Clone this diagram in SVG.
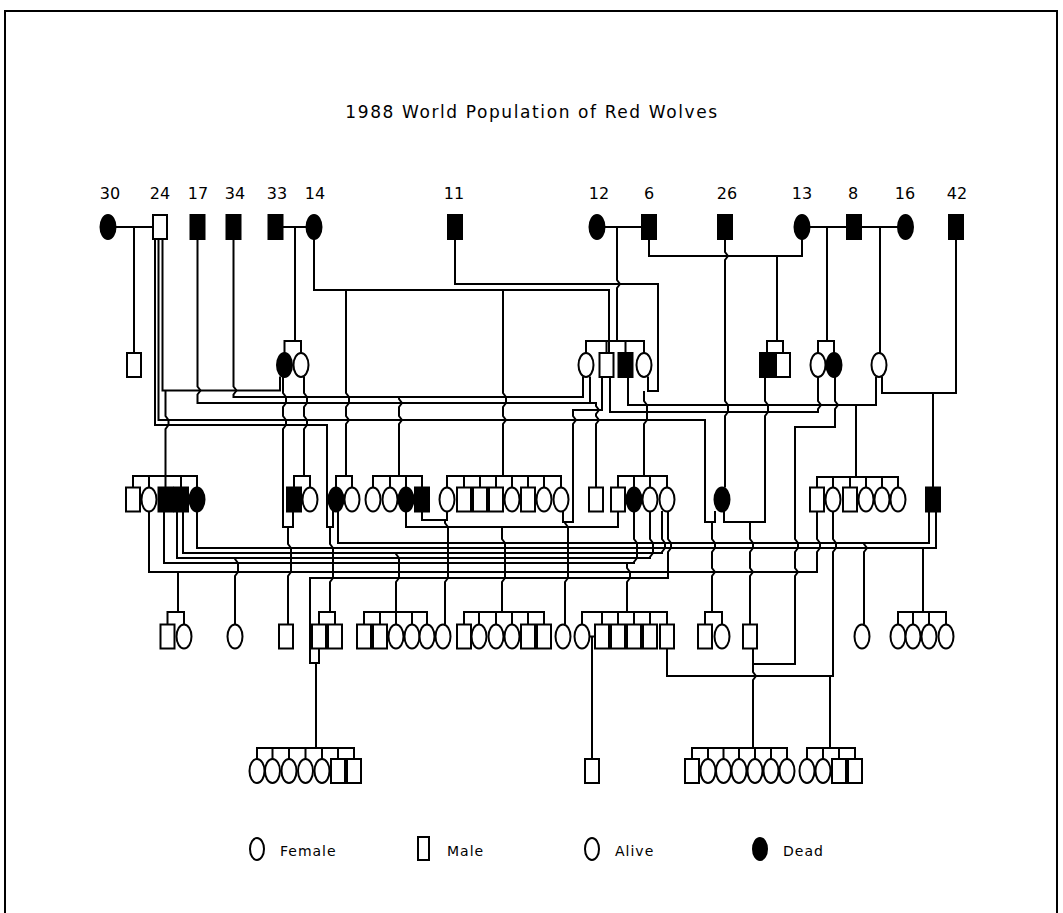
<svg xmlns="http://www.w3.org/2000/svg" xmlns:xlink="http://www.w3.org/1999/xlink" width="1063" height="913" viewBox="0 0 1063 913">
<style>
.ln{fill:none;stroke:#000;stroke-width:2;stroke-linejoin:miter}
.o{fill:#fff;stroke:#000;stroke-width:2}
.d{fill:#000;stroke:#000;stroke-width:2}
.t{font-family:"DejaVu Sans",sans-serif;font-size:16px;fill:#000}
.lg{font-family:"DejaVu Sans",sans-serif;font-size:14px;fill:#000;letter-spacing:1px}
</style>
<defs>
<rect id="sq" x="-7" y="-12" width="14" height="24"/>
<ellipse id="ov" cx="0" cy="0" rx="7.5" ry="12"/>
</defs>
<rect x="5" y="11" width="1052" height="920" fill="none" stroke="#000" stroke-width="2"/>
<text class="t" x="532" y="118" text-anchor="middle" style="font-size:17px;letter-spacing:1.6px">1988 World Population of Red Wolves</text>
<g id="labels" class="t" text-anchor="middle">
<text x="110" y="199">30</text><text x="160" y="199">24</text><text x="198" y="199">17</text><text x="235" y="199">34</text><text x="277" y="199">33</text><text x="315" y="199">14</text><text x="454" y="199">11</text><text x="599" y="199">12</text><text x="649" y="199">6</text><text x="727" y="199">26</text><text x="802" y="199">13</text><text x="853" y="199">8</text><text x="905" y="199">16</text><text x="957" y="199">42</text>
</g>
<g id="connectors" class="ln">
<path d="M115.5 227H153M134 227V353"/>
<path d="M282.5 227H306.5M295 227V341M284.5 353V341H301V353"/>
<path d="M314 239V290H609V353"/>
<path d="M346 290V393l3 4V403l-3 4V416l3 4l-3 4V476"/>
<path d="M503 290V393l3 4V403l-3 4V416l3 4l-3 4V476"/>
<path d="M455 239V284H658V391H648V376.5"/>
<path d="M644 391V401l3 4V420l-3 4V476"/>
<path d="M604.5 227H642M617 227V280l3 4l-3 4V341M586 353V341H644V353M606.5 341V353M625.5 341V353"/>
<path d="M649 239V256H802V239M777 256V341M767 353V341H783V353"/>
<path d="M725 239V252l3 4l-3 4V401l3 4V412l-3 4V487.5"/>
<path d="M809.5 227H847M827 227V341M818 353V341H834V353"/>
<path d="M861 227H898M880 227V353"/>
<path d="M956 239V393H882V376.5M933 393V487.5"/>
<path d="M162.5 239V390.5H280V376.5"/>
<path d="M165.5 390.5V416l3 4V425l-3 4V476"/>
<path d="M158.5 239V420H705V522H715V511"/>
<path d="M712 522V539l3 4V548l-3 4V568l3 4l-3 4V612"/>
<path d="M155 239V425H327V527H333V511"/>
<path d="M330 527V544l3 4V578l-3 4V612"/>
<path d="M197.5 239V386.5l3 4l-3 4V403H596V406l3 4l-3 4V416l3 4l-3 4V487.5M590 403V376.5"/>
<path d="M233.5 239V386.5l3 4l-3 4V397H583V376.5"/>
<path d="M399 397V399l3 4l-3 4V416l3 4l-3 4V476"/>
<path d="M304 376.5V393l3 4V403l-3 4V416l3 4V425l-3 4V476"/>
<path d="M602 377V410H573V416l3 4l-3 4V522H563V511"/>
<path d="M565 522V523l3 4V578l-3 4V624.5"/>
<path d="M628 377V405H876V377M856 405V476"/>
<path d="M818 377V401l3 4l-3 4V412H610V377"/>
<path d="M765 377V401l3 4V412l-3 4V522H724V511"/>
<path d="M750 522V539l3 4V548l-3 4V568l3 4l-3 4V624.5"/>
<path d="M835 377V401l3 4l-3 4V427H795V539l3 4V548l-3 4V568l3 4l-3 4V664H753V648.5"/>
<path d="M753 664V672l3 4l-3 4V748"/>
<path d="M283 377V393l3 4V403l-3 4V416l3 4V425l-3 4V527H293V511"/>
<path d="M288 527V544l3 4V572l-3 4V624.5"/>
<path d="M422 511V520H447V511M445 520V523l3 4V578l-3 4V624.5"/>
<path d="M406 511V527H618V511M502 527V539l3 4V578l-3 4V612"/>
<path d="M338 511V543H929V511M864 543V544l3 4l-3 4V624.5"/>
<path d="M197 511V548H936V511M923 548V612"/>
<path d="M662 511V539l3 4V548l-3 4V553H183V511M396 553V554l3 4V578l-3 4V612"/>
<path d="M650 511V539l3 4V553l-3 4V558H177V511M235 558V559l3 4V572l-3 4V624.5"/>
<path d="M634 511V539l3 4V558l-3 4V563H164V511M627 563V568l3 4V578l-3 4V612"/>
<path d="M817 511V539l3 4V548l-3 4V572H149V511M178 572V612"/>
<path d="M668 511V539l3 4V548l-3 4V578H310V663H319V648.5M316 663V748"/>
<path d="M589.5 636.5H595M592 636.5V759"/>
<path d="M833 511V539l3 4V548l-3 4V676H667V648.5M830 676V748"/>
<path d="M133 487.5V476H197V487.5M149 476V487.5M165.5 476V487.5M181 476V487.5"/>
<path d="M294 487.5V476H310V487.5"/>
<path d="M336 487.5V476H352V487.5"/>
<path d="M373 487.5V476H422V487.5M390 476V487.5M406 476V487.5"/>
<path d="M447 487.5V476H561V487.5M464 476V487.5M480 476V487.5M496 476V487.5M512 476V487.5M528 476V487.5M544 476V487.5"/>
<path d="M618 487.5V476H667V487.5M634 476V487.5M650 476V487.5"/>
<path d="M817 487.5V477H898V487.5M833 477V487.5M850 477V487.5M866 477V487.5M882 477V487.5"/>
<path d="M167.5 624.5V612H184V624.5"/>
<path d="M319 624.5V612H335V624.5"/>
<path d="M364 624.5V612H427V624.5M380 612V624.5M396 612V624.5M412 612V624.5"/>
<path d="M464 624.5V612H544V624.5M479 612V624.5M496 612V624.5M512 612V624.5M528 612V624.5"/>
<path d="M582 624.5V612H667V624.5M602 612V624.5M618 612V624.5M634 612V624.5M650 612V624.5"/>
<path d="M705 624.5V612H722V624.5"/>
<path d="M898 624.5V612H946V624.5M913 612V624.5M929 612V624.5"/>
<path d="M257 759V748H354V759M272.5 748V759M289 748V759M305.5 748V759M322 748V759M338 748V759"/>
<path d="M692 759V748H787V759M708 748V759M723.5 748V759M739 748V759M755 748V759M771 748V759"/>
<path d="M807 759V748H855V759M823 748V759M839 748V759"/>
</g>
<g id="founders">
<g id="w30"><use xlink:href="#ov" class="d" x="108" y="227"/></g>
<g id="w24"><use xlink:href="#sq" class="o" x="160" y="227"/></g>
<g id="w17"><use xlink:href="#sq" class="d" x="197.5" y="227"/></g>
<g id="w34"><use xlink:href="#sq" class="d" x="233.5" y="227"/></g>
<g id="w33"><use xlink:href="#sq" class="d" x="275.5" y="227"/></g>
<g id="w14"><use xlink:href="#ov" class="d" x="314" y="227"/></g>
<g id="w11"><use xlink:href="#sq" class="d" x="455" y="227"/></g>
<g id="w12"><use xlink:href="#ov" class="d" x="597" y="227"/></g>
<g id="w6"><use xlink:href="#sq" class="d" x="649" y="227"/></g>
<g id="w26"><use xlink:href="#sq" class="d" x="725" y="227"/></g>
<g id="w13"><use xlink:href="#ov" class="d" x="802" y="227"/></g>
<g id="w8"><use xlink:href="#sq" class="d" x="854" y="227"/></g>
<g id="w16"><use xlink:href="#ov" class="d" x="905.5" y="227"/></g>
<g id="w42"><use xlink:href="#sq" class="d" x="956" y="227"/></g>
</g>
<g id="gen2">
<g id="g2a"><use xlink:href="#sq" class="o" x="134" y="365"/></g>
<g id="g2b"><use xlink:href="#ov" class="d" x="284.5" y="365"/></g>
<g id="g2c"><use xlink:href="#ov" class="o" x="301" y="365"/></g>
<g id="g2d"><use xlink:href="#ov" class="o" x="586" y="365"/></g>
<g id="g2e"><use xlink:href="#sq" class="o" x="606.5" y="365"/></g>
<g id="g2f"><use xlink:href="#sq" class="d" x="625.5" y="365"/></g>
<g id="g2g"><use xlink:href="#ov" class="o" x="644" y="365"/></g>
<g id="g2h"><use xlink:href="#sq" class="d" x="767" y="365"/></g>
<g id="g2i"><use xlink:href="#sq" class="o" x="783" y="365"/></g>
<g id="g2j"><use xlink:href="#ov" class="o" x="818" y="365"/></g>
<g id="g2k"><use xlink:href="#ov" class="d" x="834" y="365"/></g>
<g id="g2l"><use xlink:href="#ov" class="o" x="879" y="365"/></g>
</g>
<g id="gen3">
<g id="g3a1"><use xlink:href="#sq" class="o" x="133" y="499.5"/></g>
<g id="g3a2"><use xlink:href="#ov" class="o" x="149" y="499.5"/></g>
<g id="g3a3"><use xlink:href="#sq" class="d" x="165.5" y="499.5"/></g>
<g id="g3a4"><use xlink:href="#sq" class="d" x="181" y="499.5"/></g>
<g id="g3a5"><use xlink:href="#ov" class="d" x="197" y="499.5"/></g>
<g id="g3b1"><use xlink:href="#sq" class="d" x="294" y="499.5"/></g>
<g id="g3b2"><use xlink:href="#ov" class="o" x="310" y="499.5"/></g>
<g id="g3c1"><use xlink:href="#ov" class="d" x="336" y="499.5"/></g>
<g id="g3c2"><use xlink:href="#ov" class="o" x="352" y="499.5"/></g>
<g id="g3d1"><use xlink:href="#ov" class="o" x="373" y="499.5"/></g>
<g id="g3d2"><use xlink:href="#ov" class="o" x="390" y="499.5"/></g>
<g id="g3d3"><use xlink:href="#ov" class="d" x="406" y="499.5"/></g>
<g id="g3d4"><use xlink:href="#sq" class="d" x="422" y="499.5"/></g>
<g id="g3e1"><use xlink:href="#ov" class="o" x="447" y="499.5"/></g>
<g id="g3e2"><use xlink:href="#sq" class="o" x="464" y="499.5"/></g>
<g id="g3e3"><use xlink:href="#sq" class="o" x="480" y="499.5"/></g>
<g id="g3e4"><use xlink:href="#sq" class="o" x="496" y="499.5"/></g>
<g id="g3e5"><use xlink:href="#ov" class="o" x="512" y="499.5"/></g>
<g id="g3e6"><use xlink:href="#sq" class="o" x="528" y="499.5"/></g>
<g id="g3e7"><use xlink:href="#ov" class="o" x="544" y="499.5"/></g>
<g id="g3e8"><use xlink:href="#ov" class="o" x="561" y="499.5"/></g>
<g id="g3s1"><use xlink:href="#sq" class="o" x="596" y="499.5"/></g>
<g id="g3f1"><use xlink:href="#sq" class="o" x="618" y="499.5"/></g>
<g id="g3f2"><use xlink:href="#ov" class="d" x="634" y="499.5"/></g>
<g id="g3f3"><use xlink:href="#ov" class="o" x="650" y="499.5"/></g>
<g id="g3f4"><use xlink:href="#ov" class="o" x="667" y="499.5"/></g>
<g id="g3s2"><use xlink:href="#ov" class="d" x="722" y="499.5"/></g>
<g id="g3g1"><use xlink:href="#sq" class="o" x="817" y="499.5"/></g>
<g id="g3g2"><use xlink:href="#ov" class="o" x="833" y="499.5"/></g>
<g id="g3g3"><use xlink:href="#sq" class="o" x="850" y="499.5"/></g>
<g id="g3g4"><use xlink:href="#ov" class="o" x="866" y="499.5"/></g>
<g id="g3g5"><use xlink:href="#ov" class="o" x="882" y="499.5"/></g>
<g id="g3g6"><use xlink:href="#ov" class="o" x="898" y="499.5"/></g>
<g id="g3s3"><use xlink:href="#sq" class="d" x="933" y="499.5"/></g>
</g>
<g id="gen4">
<g id="g4a1"><use xlink:href="#sq" class="o" x="167.5" y="636.5"/></g>
<g id="g4a2"><use xlink:href="#ov" class="o" x="184" y="636.5"/></g>
<g id="g4s1"><use xlink:href="#ov" class="o" x="235" y="636.5"/></g>
<g id="g4s2"><use xlink:href="#sq" class="o" x="286" y="636.5"/></g>
<g id="g4b1"><use xlink:href="#sq" class="o" x="319" y="636.5"/></g>
<g id="g4b2"><use xlink:href="#sq" class="o" x="335" y="636.5"/></g>
<g id="g4c1"><use xlink:href="#sq" class="o" x="364" y="636.5"/></g>
<g id="g4c2"><use xlink:href="#sq" class="o" x="380" y="636.5"/></g>
<g id="g4c3"><use xlink:href="#ov" class="o" x="396" y="636.5"/></g>
<g id="g4c4"><use xlink:href="#ov" class="o" x="412" y="636.5"/></g>
<g id="g4c5"><use xlink:href="#ov" class="o" x="427" y="636.5"/></g>
<g id="g4s3"><use xlink:href="#ov" class="o" x="443" y="636.5"/></g>
<g id="g4d1"><use xlink:href="#sq" class="o" x="464" y="636.5"/></g>
<g id="g4d2"><use xlink:href="#ov" class="o" x="479" y="636.5"/></g>
<g id="g4d3"><use xlink:href="#ov" class="o" x="496" y="636.5"/></g>
<g id="g4d4"><use xlink:href="#ov" class="o" x="512" y="636.5"/></g>
<g id="g4d5"><use xlink:href="#sq" class="o" x="528" y="636.5"/></g>
<g id="g4d6"><use xlink:href="#sq" class="o" x="544" y="636.5"/></g>
<g id="g4s4"><use xlink:href="#ov" class="o" x="563" y="636.5"/></g>
<g id="g4e1"><use xlink:href="#ov" class="o" x="582" y="636.5"/></g>
<g id="g4e2"><use xlink:href="#sq" class="o" x="602" y="636.5"/></g>
<g id="g4e3"><use xlink:href="#sq" class="o" x="618" y="636.5"/></g>
<g id="g4e4"><use xlink:href="#sq" class="o" x="634" y="636.5"/></g>
<g id="g4e5"><use xlink:href="#sq" class="o" x="650" y="636.5"/></g>
<g id="g4e6"><use xlink:href="#sq" class="o" x="667" y="636.5"/></g>
<g id="g4f1"><use xlink:href="#sq" class="o" x="705" y="636.5"/></g>
<g id="g4f2"><use xlink:href="#ov" class="o" x="722" y="636.5"/></g>
<g id="g4s5"><use xlink:href="#sq" class="o" x="750" y="636.5"/></g>
<g id="g4s6"><use xlink:href="#ov" class="o" x="862" y="636.5"/></g>
<g id="g4g1"><use xlink:href="#ov" class="o" x="898" y="636.5"/></g>
<g id="g4g2"><use xlink:href="#ov" class="o" x="913" y="636.5"/></g>
<g id="g4g3"><use xlink:href="#ov" class="o" x="929" y="636.5"/></g>
<g id="g4g4"><use xlink:href="#ov" class="o" x="946" y="636.5"/></g>
</g>
<g id="gen5">
<g id="g5a1"><use xlink:href="#ov" class="o" x="257" y="771"/></g>
<g id="g5a2"><use xlink:href="#ov" class="o" x="272.5" y="771"/></g>
<g id="g5a3"><use xlink:href="#ov" class="o" x="289" y="771"/></g>
<g id="g5a4"><use xlink:href="#ov" class="o" x="305.5" y="771"/></g>
<g id="g5a5"><use xlink:href="#ov" class="o" x="322" y="771"/></g>
<g id="g5a6"><use xlink:href="#sq" class="o" x="338" y="771"/></g>
<g id="g5a7"><use xlink:href="#sq" class="o" x="354" y="771"/></g>
<g id="g5s1"><use xlink:href="#sq" class="o" x="592" y="771"/></g>
<g id="g5b1"><use xlink:href="#sq" class="o" x="692" y="771"/></g>
<g id="g5b2"><use xlink:href="#ov" class="o" x="708" y="771"/></g>
<g id="g5b3"><use xlink:href="#ov" class="o" x="723.5" y="771"/></g>
<g id="g5b4"><use xlink:href="#ov" class="o" x="739" y="771"/></g>
<g id="g5b5"><use xlink:href="#ov" class="o" x="755" y="771"/></g>
<g id="g5b6"><use xlink:href="#ov" class="o" x="771" y="771"/></g>
<g id="g5b7"><use xlink:href="#ov" class="o" x="787" y="771"/></g>
<g id="g5c1"><use xlink:href="#ov" class="o" x="807" y="771"/></g>
<g id="g5c2"><use xlink:href="#ov" class="o" x="823" y="771"/></g>
<g id="g5c3"><use xlink:href="#sq" class="o" x="839" y="771"/></g>
<g id="g5c4"><use xlink:href="#sq" class="o" x="855" y="771"/></g>
</g>
<g id="legend">
<g id="lg-female"><ellipse class="o" cx="257" cy="849" rx="7" ry="11"/><text class="lg" x="280" y="856">Female</text></g>
<g id="lg-male"><rect class="o" x="418" y="837" width="11" height="23"/><text class="lg" x="447" y="856">Male</text></g>
<g id="lg-alive"><ellipse class="o" cx="592" cy="849" rx="7" ry="11"/><text class="lg" x="615" y="856">Alive</text></g>
<g id="lg-dead"><ellipse class="d" cx="760" cy="849" rx="7" ry="11"/><text class="lg" x="783" y="856">Dead</text></g>
</g>
</svg>
